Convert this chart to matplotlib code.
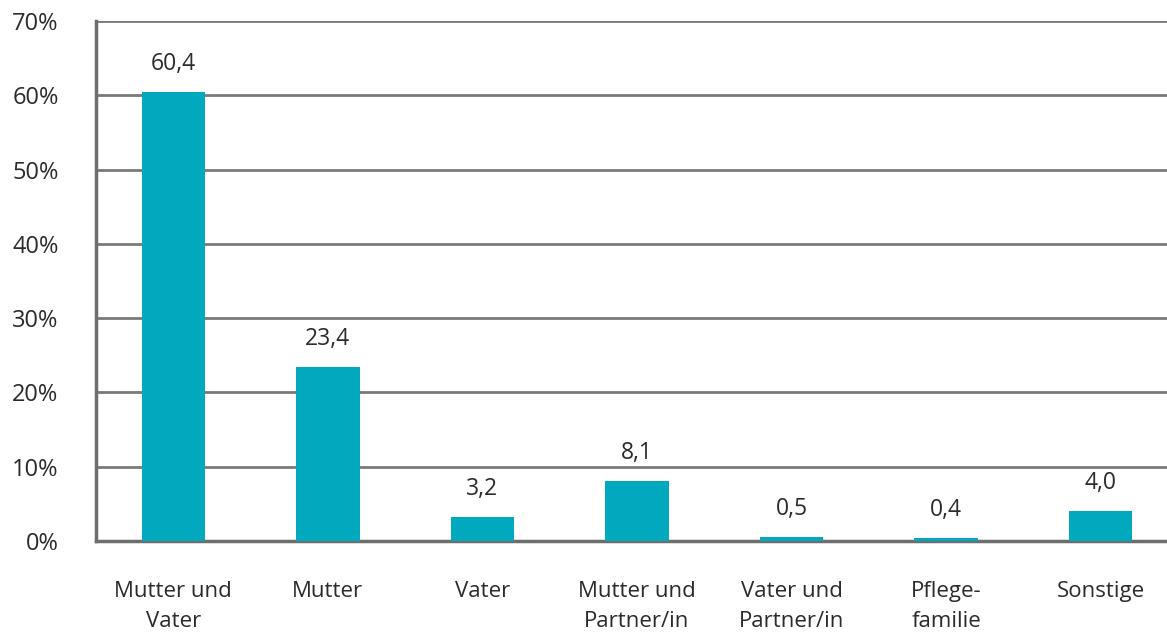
import numpy as np
import matplotlib.pyplot as plt

categories = ['Mutter und\nVater', 'Mutter', 'Vater', 'Mutter und\nPartner/in',
              'Vater und\nPartner/in', 'Pflege-\nfamilie', 'Sonstige']
values = [60.4, 23.4, 3.2, 8.1, 0.5, 0.4, 4.0]
value_labels = ['60,4', '23,4', '3,2', '8,1', '0,5', '0,4', '4,0']
yticks = [0, 10, 20, 30, 40, 50, 60, 70]

plt.rcParams['font.family'] = ['Open Sans', 'DejaVu Sans']
text_col = '#2b2b2b'
grid_col = '#7a7a7a'

fig = plt.figure(figsize=(11.67, 6.34), dpi=100)
ax = fig.add_axes([96 / 1167, 1 - 541 / 634, 1 - 96 / 1167, (541 - 21) / 634])

x = np.arange(len(categories))
ax.bar(x, values, width=0.41, color='#00A9BD', zorder=3)

for xi, v, lab in zip(x, values, value_labels):
    ax.annotate(lab, (xi, v), xytext=(0, 16), textcoords='offset points',
                ha='center', va='baseline', fontsize=16.5, color=text_col)

ax.set_xlim(-0.5, 6.43)
ax.set_ylim(0, 70)
ax.set_yticks(yticks)
ax.set_yticklabels([f'{t}%' for t in yticks], fontsize=17, color=text_col)
ax.set_xticks(x)
ax.set_xticklabels(categories, fontsize=16, color=text_col, linespacing=1.55)

ax.yaxis.grid(True, color=grid_col, linewidth=2, zorder=0)
ax.tick_params(axis='both', length=0)
ax.tick_params(axis='x', pad=29)
ax.tick_params(axis='y', pad=27)

for s in ['top', 'right']:
    ax.spines[s].set_visible(False)
for s in ['left', 'bottom']:
    ax.spines[s].set_color('#6e6e6e')
    ax.spines[s].set_linewidth(2.5)

plt.savefig('out.png', dpi=100)
